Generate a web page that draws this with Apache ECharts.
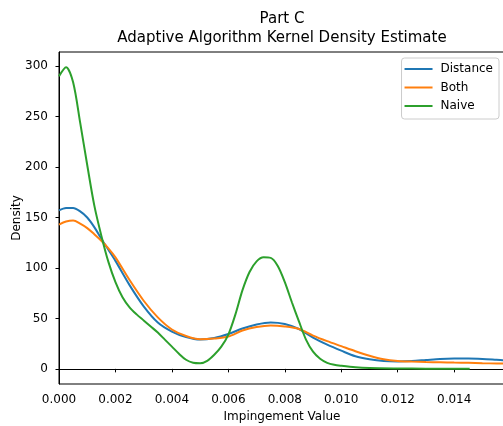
<!DOCTYPE html>
<html>
<head>
<meta charset="utf-8">
<script src="https://cdn.jsdelivr.net/npm/echarts@6/dist/echarts.min.js"></script>
<style>html,body{margin:0;padding:0;background:#fff}#c{width:503px;height:426px}</style>
</head>
<body>
<div id="c"></div>
<script>
var titleLines = ['Part C', 'Adaptive Algorithm Kernel Density Estimate'];
var seriesNames = ['Distance', 'Both', 'Naive'];
var xTicks = [0, 0.002, 0.004, 0.006, 0.008, 0.010, 0.012, 0.014];
var yTicks = [0, 50, 100, 150, 200, 250, 300];

var distanceX = [0, 0.00025, 0.0005, 0.00075, 0.001, 0.00125, 0.0015, 0.00175, 0.002, 0.0025, 0.003, 0.0035, 0.004, 0.0045, 0.005, 0.0055, 0.006, 0.0065, 0.007, 0.0075, 0.008, 0.0085, 0.009, 0.0095, 0.01, 0.0105, 0.011, 0.0115, 0.012, 0.0125, 0.013, 0.0135, 0.014, 0.0145, 0.015, 0.0155, 0.0158];
var distanceY = [157, 159.5, 159.5, 156, 150, 140.5, 129, 118, 107, 83, 62, 46, 37, 31.5, 29, 30.5, 34.5, 40, 44, 46, 44.5, 39.5, 31, 24, 18, 12.5, 9.5, 7.8, 7.4, 7.8, 8.8, 9.8, 10.2, 10.2, 9.8, 9, 8.5];

var bothX = [0, 0.00025, 0.0005, 0.00075, 0.001, 0.00125, 0.0015, 0.00175, 0.002, 0.0025, 0.003, 0.0035, 0.004, 0.0045, 0.005, 0.0055, 0.006, 0.0065, 0.007, 0.0075, 0.008, 0.0085, 0.009, 0.0095, 0.01, 0.0105, 0.011, 0.0115, 0.012, 0.0125, 0.013, 0.0135, 0.014, 0.0145, 0.015, 0.0155, 0.0158];
var bothY = [143, 146, 147, 144, 139.5, 133.5, 127, 119.5, 110.5, 88, 67.5, 51, 39, 32.5, 29.3, 30, 32, 38, 41.5, 43, 42, 39.5, 33, 27.5, 22.5, 17.5, 13, 9.5, 7.8, 7.2, 6.8, 6.5, 6.2, 6, 5.6, 5.3, 5.2];

var naiveX = [0, 0.00025, 0.0005, 0.00075, 0.001, 0.00125, 0.0015, 0.00175, 0.002, 0.00225, 0.0025, 0.00275, 0.003, 0.00325, 0.0035, 0.00375, 0.004, 0.00425, 0.0045, 0.00475, 0.005, 0.00525, 0.0055, 0.00575, 0.006, 0.00625, 0.0065, 0.00675, 0.007, 0.00725, 0.0075, 0.00775, 0.008, 0.00825, 0.0085, 0.00875, 0.009, 0.00925, 0.0095, 0.00975, 0.01, 0.0105, 0.011, 0.012, 0.013, 0.014, 0.01455];
var naiveY = [290, 299, 284, 244, 202, 162, 132, 106, 86, 71, 61, 54, 48, 42, 36, 29, 22, 15, 9, 6, 5.5, 8, 14, 22, 34, 54, 78, 96, 106.5, 110.5, 110, 102, 86, 66, 47, 29, 17, 10, 6, 4, 3, 1.5, 0.8, 0.4, 0.2, 0.1, 0.1];

var colors = ['#1f77b4', '#ff7f0e', '#2ca02c'];
var FONT = 'DejaVu Sans';
var FS = 12;

function zip(xs, ys) { return xs.map(function (x, i) { return [x, ys[i]]; }); }
var seriesData = [zip(distanceX, distanceY), zip(bothX, bothY), zip(naiveX, naiveY)];

var chart = echarts.init(document.getElementById('c'), null, {renderer: 'canvas'});
chart.setOption({
  animation: false,
  backgroundColor: '#ffffff',
  color: colors,
  title: {
    text: titleLines.join('\n'),
    left: 277,
    top: 5,
    textAlign: 'center',
    textStyle: {fontFamily: FONT, fontSize: 15, fontWeight: 'normal', color: '#000', lineHeight: 19}
  },
  legend: {
    data: seriesNames,
    orient: 'vertical',
    right: 4,
    top: 58,
    icon: 'rect',
    itemWidth: 28,
    itemHeight: 2,
    itemGap: 4.5,
    padding: [4, 6, 6, 3],
    borderColor: '#cccccc',
    borderWidth: 1,
    borderRadius: 3,
    backgroundColor: '#ffffff',
    textStyle: {fontFamily: FONT, fontSize: FS, color: '#000', lineHeight: 14, padding: [0, 0, 0, 3]}
  },
  grid: {left: 59, top: 52, bottom: 42, right: -2, show: true, borderColor: '#000', borderWidth: 1,
    containLabel: false, outerBoundsMode: 'none'},
  xAxis: {
    type: 'value',
    min: 0,
    max: 0.0158,
    name: 'Impingement Value',
    nameLocation: 'middle',
    nameGap: 27,
    nameMoveOverlap: false,
    nameTextStyle: {fontFamily: FONT, fontSize: FS, color: '#000'},
    axisLine: {show: true, lineStyle: {color: '#000', width: 1}},
    axisTick: {show: true, inside: false, length: 3.5, lineStyle: {color: '#000'}, customValues: xTicks},
    axisLabel: {fontFamily: FONT, fontSize: FS, color: '#000', margin: 10, customValues: xTicks,
      formatter: function (v) { return v.toFixed(3); }},
    splitLine: {show: false}
  },
  yAxis: {
    type: 'value',
    min: -15,
    max: 314,
    name: 'Density',
    nameLocation: 'middle',
    nameGap: 36,
    nameMoveOverlap: false,
    nameTextStyle: {fontFamily: FONT, fontSize: FS, color: '#000'},
    axisLine: {show: true, lineStyle: {color: '#000', width: 1}},
    axisTick: {show: true, inside: false, length: 3.5, lineStyle: {color: '#000'}, customValues: yTicks},
    axisLabel: {fontFamily: FONT, fontSize: FS, color: '#000', margin: 11, customValues: yTicks},
    splitLine: {show: false}
  },
  series: seriesNames.map(function (n, i) {
    return {
      name: n,
      type: 'line',
      data: seriesData[i],
      showSymbol: false,
      smooth: 0.3,
      clip: true,
      lineStyle: {width: 2, color: colors[i]},
      itemStyle: {color: colors[i]}
    };
  })
});
</script>
</body>
</html>
